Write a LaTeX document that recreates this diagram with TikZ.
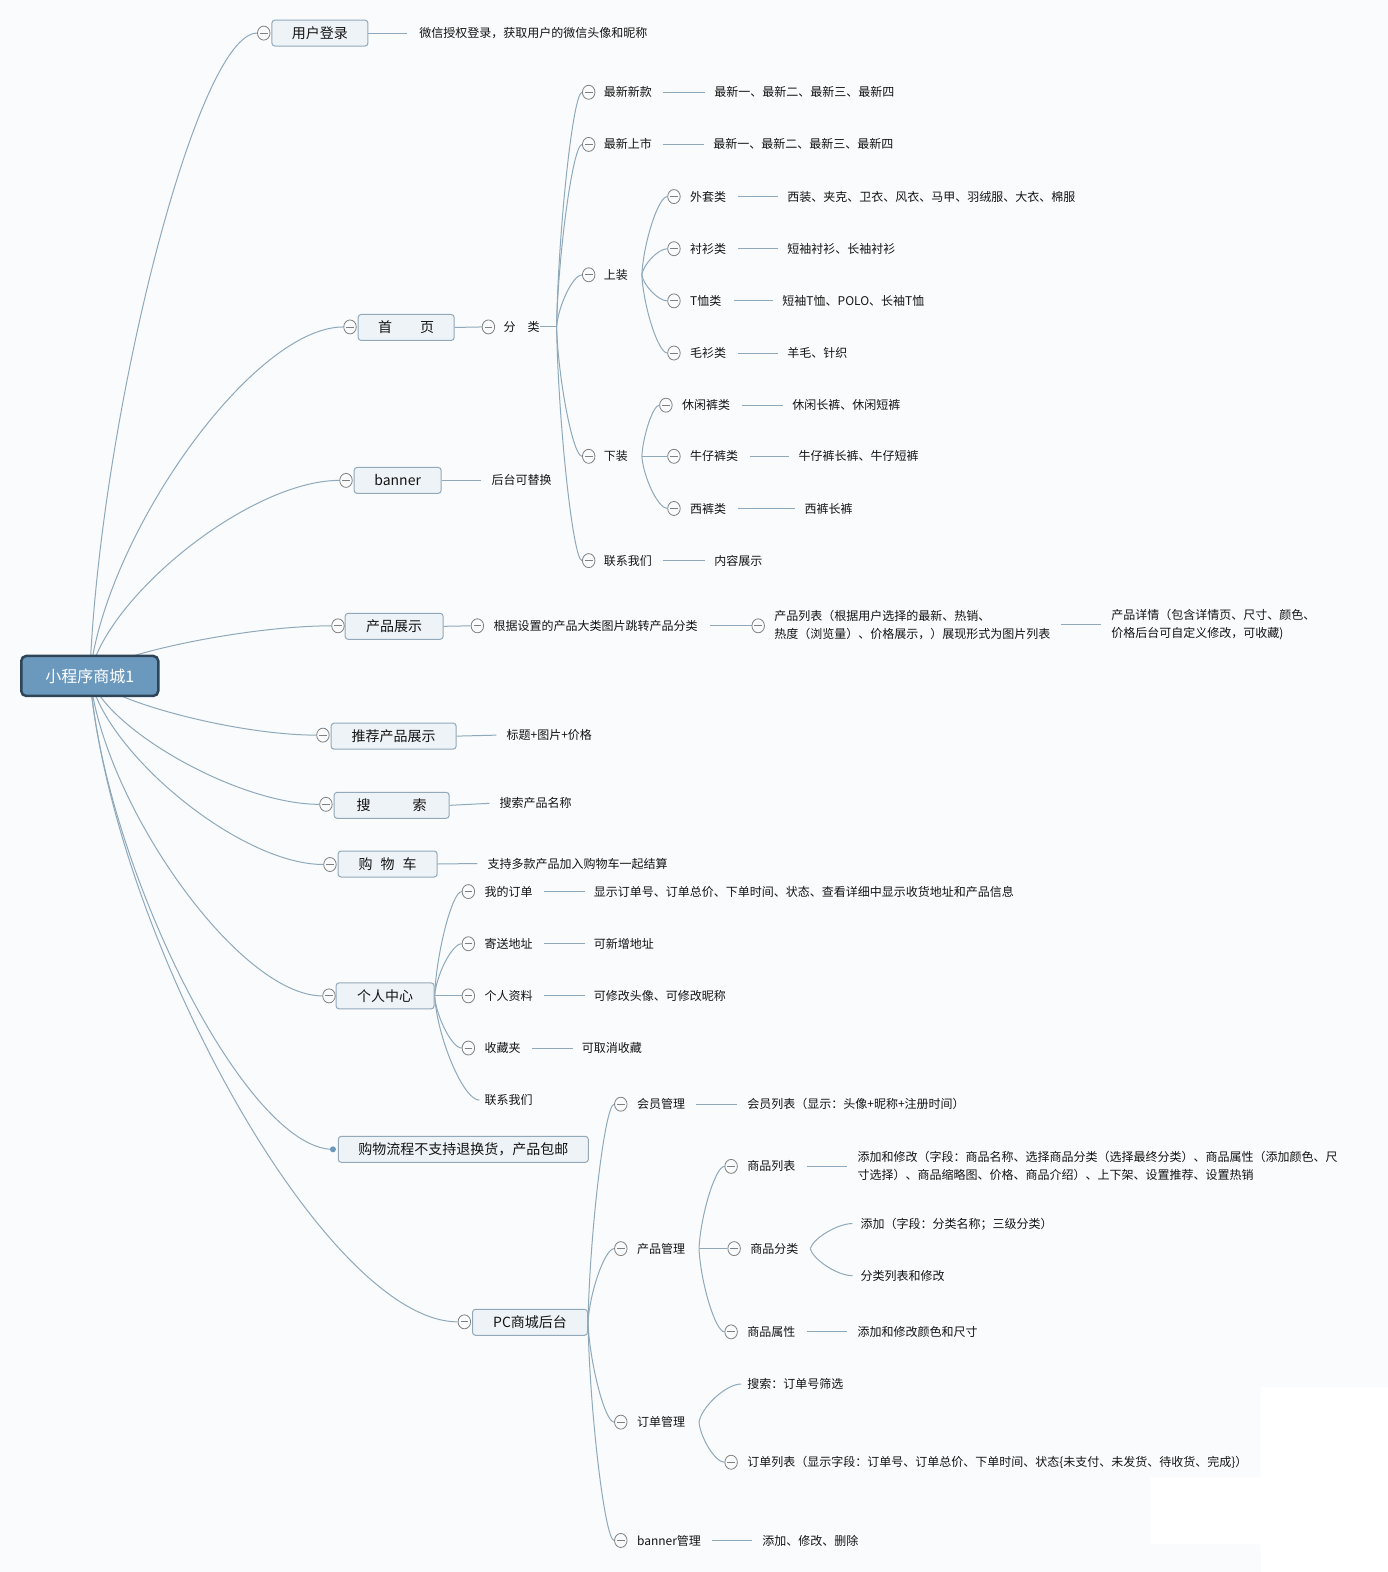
\documentclass[tikz,border=0pt]{standalone}
\usepackage{fontspec}
\setmainfont{Noto Sans CJK SC}
\usetikzlibrary{calc,shapes.geometric}
\definecolor{bgc}{HTML}{FAFBFC}
\definecolor{lc}{HTML}{8FA9BC}
\definecolor{tc}{HTML}{141414}
\definecolor{tg}{HTML}{808080}
\definecolor{bf}{HTML}{EEF3F7}
\definecolor{bb}{HTML}{93A9BA}
\definecolor{rf}{HTML}{6B99BE}
\definecolor{rb}{HTML}{2E4457}
\pgfdeclarelayer{bgl}
\pgfdeclarelayer{edges}
\pgfsetlayers{bgl,edges,main}
\tikzset{
  conn/.style={draw=lc,line width=1pt},
  txt/.style={anchor=west,inner sep=0pt,text=tc,font=\fontsize{12}{18}\selectfont,text height=10.3pt,text depth=1.2pt},
  txtm/.style={anchor=west,inner sep=0pt,text=tc,font=\fontsize{12}{18}\selectfont,align=left},
  tog/.style={ellipse,draw=tg,fill=bgc,line width=0.8pt,minimum width=12.5pt,minimum height=14pt,inner sep=0pt,
    path picture={\draw[tg,line width=0.8pt] ([xshift=-3.8pt]path picture bounding box.center)--([xshift=3.8pt]path picture bounding box.center);}},
  box/.style={draw=bb,fill=bf,rounded corners=3pt,line width=1pt,minimum height=26pt,inner sep=0pt,text=tc,font=\fontsize{14}{16}\selectfont},
  rootbox/.style={draw=rb,fill=rf,line width=2.5pt,rounded corners=5pt,minimum width=137pt,minimum height=40pt,inner sep=0pt,text=white,font=\fontsize{16}{18}\selectfont},
  dotnode/.style={circle,fill=rf,minimum size=6pt,inner sep=0pt}
}
\newcommand\bz[2]{\begin{pgfonlayer}{edges}\draw[conn] let \p1=(#1), \p2=(#2) in (\p1) .. controls ({\x1+0.06*(\x2-\x1)},{\y1+0.4*(\y2-\y1)}) and ({\x1+0.64*(\x2-\x1)},{\y2}) .. (\p2);\end{pgfonlayer}}
\newcommand\sline[2]{\begin{pgfonlayer}{edges}\draw[conn] (#1) -- (#2);\end{pgfonlayer}}
\begin{document}
\begin{tikzpicture}[x=1.0029pt,y=-1.0029pt]
\begin{pgfonlayer}{bgl}
\fill[bgc] (0pt,0pt) rectangle (1388pt,-1572pt);
\fill[white] (1257,1383) -- (1388pt,-1387pt) -- (1388pt,-1572pt) -- (1261pt,-1572pt) -- (1257,1540) -- (1147,1540) -- (1147,1473) -- (1257,1473) -- cycle;
\end{pgfonlayer}
\useasboundingbox (0pt,0pt) rectangle (1388pt,-1572pt);

% root
\node[rootbox] (root) at (89.5,674) {小程序商城1};

% 用户登录
\node[box,minimum width=96pt] (b1) at (319,33) {用户登录};
\node[tog] (c1) at (263,33) {};
\node[txt] (t1) at (418,33) {微信授权登录，获取用户的微信头像和昵称};
\sline{b1.east}{[xshift=-12pt]t1.west}
\bz{root.center}{c1.west}

% 首页
\node[box,minimum width=96pt] (b2) at (405,326.5) {首　　页};
\node[tog] (c2) at (349,326) {};
\node[tog] (c2a) at (487,326) {};
\node[txt] (t2) at (502,326) {分　类};
\sline{b2.east}{c2a.west}
\bz{root.center}{c2.west}
\coordinate (f2) at (555,326);
\sline{t2.east}{f2}

\node[tog] (c21) at (587,92) {};
\node[txt] (t21) at (602,92) {最新新款};
\node[txt] (t21a) at (712,92) {最新一、最新二、最新三、最新四};
\sline{[xshift=11pt]t21.east}{[xshift=-9pt]t21a.west}
\node[tog] (c22) at (587,144) {};
\node[txt] (t22) at (602,144) {最新上市};
\node[txt] (t22a) at (711,144) {最新一、最新二、最新三、最新四};
\sline{[xshift=11pt]t22.east}{[xshift=-9pt]t22a.west}
\node[tog] (c23) at (587,274) {};
\node[txt] (t23) at (602,274) {上装};
\node[tog] (c24) at (587,455) {};
\node[txt] (t24) at (602,455) {下装};
\node[tog] (c25) at (587,559) {};
\node[txt] (t25) at (602,559) {联系我们};
\node[txt] (t25a) at (712,559) {内容展示};
\sline{[xshift=11pt]t25.east}{[xshift=-9pt]t25a.west}
\bz{f2}{c21.west}
\bz{f2}{c22.west}
\bz{f2}{c23.west}
\bz{f2}{c24.west}
\bz{f2}{c25.west}

% 上装
\coordinate (f23) at (640,274);
\node[tog] (c231) at (672,196) {};
\node[txt] (t231) at (688,196) {外套类};
\node[txt] (t231a) at (785,196) {西装、夹克、卫衣、风衣、马甲、羽绒服、大衣、棉服};
\sline{[xshift=12pt]t231.east}{[xshift=-9pt]t231a.west}
\node[tog] (c232) at (672,248) {};
\node[txt] (t232) at (688,248) {衬衫类};
\node[txt] (t232a) at (785,248) {短袖衬衫、长袖衬衫};
\sline{[xshift=12pt]t232.east}{[xshift=-9pt]t232a.west}
\node[tog] (c233) at (672,300) {};
\node[txt] (t233) at (688,300) {T恤类};
\node[txt] (t233a) at (780,300) {短袖T恤、POLO、长袖T恤};
\sline{[xshift=12pt]t233.east}{[xshift=-9pt]t233a.west}
\node[tog] (c234) at (672,352) {};
\node[txt] (t234) at (688,352) {毛衫类};
\node[txt] (t234a) at (785,352) {羊毛、针织};
\sline{[xshift=12pt]t234.east}{[xshift=-9pt]t234a.west}
\bz{f23}{c231.west}
\bz{f23}{c232.west}
\bz{f23}{c233.west}
\bz{f23}{c234.west}

% 下装
\coordinate (f24) at (640,455);
\node[tog] (c241) at (664,404) {};
\node[txt] (t241) at (680,404) {休闲裤类};
\node[txt] (t241a) at (790,404) {休闲长裤、休闲短裤};
\sline{[xshift=12pt]t241.east}{[xshift=-9pt]t241a.west}
\node[tog] (c242) at (672,455) {};
\node[txt] (t242) at (688,455) {牛仔裤类};
\node[txt] (t242a) at (796,455) {牛仔裤长裤、牛仔短裤};
\sline{[xshift=12pt]t242.east}{[xshift=-9pt]t242a.west}
\node[tog] (c243) at (672,507) {};
\node[txt] (t243) at (688,507) {西裤类};
\node[txt] (t243a) at (802,507) {西裤长裤};
\sline{[xshift=12pt]t243.east}{[xshift=-9pt]t243a.west}
\bz{f24}{c241.west}
\bz{f24}{c242.west}
\bz{f24}{c243.west}

% banner
\node[box,minimum width=87pt] (b3) at (396.5,479) {banner};
\node[tog] (c3) at (345,479) {};
\node[txt] (t3) at (490,479) {后台可替换};
\sline{b3.east}{[xshift=-10pt]t3.west}
\bz{root.center}{c3.west}

% 产品展示
\node[box,minimum width=98pt] (b4) at (393,624.5) {产品展示};
\node[tog] (c4) at (337,624) {};
\node[tog] (c4a) at (476,624) {};
\node[txt] (t4) at (492,624) {根据设置的产品大类图片跳转产品分类};
\node[tog] (c4b) at (756,624) {};
\node[txtm] (t4b) at (772,623) {产品列表（根据用户选择的最新、热销、\\热度（浏览量）、价格展示，）展现形式为图片列表};
\node[txtm] (t4c) at (1108,623) {产品详情（包含详情页、尺寸、颜色、\\价格后台可自定义修改，可收藏)};
\sline{b4.east}{c4a.west}
\sline{[xshift=12pt]t4.east}{c4b.west}
\sline{[xshift=10pt]t4b.east}{[xshift=-10pt]t4c.west}
\bz{root.center}{c4.west}

% 推荐产品展示
\node[box,minimum width=125pt] (b5) at (392.5,734) {推荐产品展示};
\node[tog] (c5) at (322,733) {};
\node[txt] (t5) at (505,733) {标题+图片+价格};
\sline{b5.east}{[xshift=-10pt]t5.west}
\bz{root.center}{c5.west}

% 搜索
\node[box,minimum width=115pt] (b6) at (390.5,803) {搜　　　索};
\node[tog] (c6) at (325,802) {};
\node[txt] (t6) at (498,801) {搜索产品名称};
\sline{b6.east}{[xshift=-10pt]t6.west}
\bz{root.center}{c6.west}

% 购物车
\node[box,minimum width=99pt] (b7) at (386.5,861.5) {购\hspace{8pt}物\hspace{8pt}车};
\node[tog] (c7) at (329,862) {};
\node[txt] (t7) at (486,861) {支持多款产品加入购物车一起结算};
\sline{b7.east}{[xshift=-10pt]t7.west}
\bz{root.center}{c7.west}

% 个人中心
\node[box,minimum width=98pt] (b8) at (384,993) {个人中心};
\node[tog] (c8) at (328,993) {};
\bz{root.center}{c8.west}
\node[tog] (c81) at (467,889) {};
\node[txt] (t81) at (483,889) {我的订单};
\node[txt] (t81a) at (592,889) {显示订单号、订单总价、下单时间、状态、查看详细中显示收货地址和产品信息};
\sline{[xshift=11pt]t81.east}{[xshift=-9pt]t81a.west}
\node[tog] (c82) at (467,941) {};
\node[txt] (t82) at (483,941) {寄送地址};
\node[txt] (t82a) at (592,941) {可新增地址};
\sline{[xshift=11pt]t82.east}{[xshift=-9pt]t82a.west}
\node[tog] (c83) at (467,993) {};
\node[txt] (t83) at (483,993) {个人资料};
\node[txt] (t83a) at (592,993) {可修改头像、可修改昵称};
\sline{[xshift=11pt]t83.east}{[xshift=-9pt]t83a.west}
\node[tog] (c84) at (467,1045) {};
\node[txt] (t84) at (483,1045) {收藏夹};
\node[txt] (t84a) at (580,1045) {可取消收藏};
\sline{[xshift=11pt]t84.east}{[xshift=-9pt]t84a.west}
\node[txt] (t85) at (483,1097) {联系我们};
\bz{b8.east}{c81.west}
\bz{b8.east}{c82.west}
\bz{b8.east}{c83.west}
\bz{b8.east}{c84.west}
\bz{b8.east}{[xshift=-5pt]t85.west}

% 购物流程
\node[box,minimum width=250pt] (b9) at (462,1146) {购物流程不支持退换货，产品包邮};
\node[dotnode] (c9) at (332,1146) {};
\bz{root.center}{c9.center}

% PC商城后台
\node[box,minimum width=115pt] (b10) at (528.5,1318.5) {PC商城后台};
\node[tog] (c10) at (463,1318) {};
\bz{root.center}{c10.west}

\node[tog] (c101) at (619,1101) {};
\node[txt] (t101) at (635,1101) {会员管理};
\node[txt] (t101a) at (745,1101) {会员列表（显示：头像+昵称+注册时间）};
\sline{[xshift=11pt]t101.east}{[xshift=-10pt]t101a.west}
\node[tog] (c102) at (619,1245) {};
\node[txt] (t102) at (635,1245) {产品管理};
\node[tog] (c103) at (619,1418) {};
\node[txt] (t103) at (635,1418) {订单管理};
\node[tog] (c104) at (619,1536) {};
\node[txt] (t104) at (635,1536) {banner管理};
\node[txt] (t104a) at (760,1536) {添加、修改、删除};
\sline{[xshift=11pt]t104.east}{[xshift=-10pt]t104a.west}
\bz{b10.east}{c101.west}
\bz{b10.east}{c102.west}
\bz{b10.east}{c103.west}
\bz{b10.east}{c104.west}

% 产品管理
\coordinate (f102) at (697,1245);
\node[tog] (c1021) at (729,1163) {};
\node[txt] (t1021) at (745,1163) {商品列表};
\node[txtm] (t1021a) at (855,1163) {添加和修改（字段：商品名称、选择商品分类（选择最终分类）、商品属性（添加颜色、尺\\寸选择）、商品缩略图、价格、商品介绍）、上下架、设置推荐、设置热销};
\sline{[xshift=11pt]t1021.east}{[xshift=-10pt]t1021a.west}
\node[tog] (c1022) at (732,1245) {};
\node[txt] (t1022) at (748,1245) {商品分类};
\node[tog] (c1023) at (729,1328) {};
\node[txt] (t1023) at (745,1328) {商品属性};
\node[txt] (t1023a) at (855,1328) {添加和修改颜色和尺寸};
\sline{[xshift=11pt]t1023.east}{[xshift=-10pt]t1023a.west}
\bz{f102}{c1021.west}
\bz{f102}{c1022.west}
\bz{f102}{c1023.west}

% 商品分类
\coordinate (f1022) at (808,1245);
\node[txt] (t10221) at (858,1220) {添加（字段：分类名称；三级分类）};
\node[txt] (t10222) at (858,1272) {分类列表和修改};
\bz{f1022}{[xshift=-8pt]t10221.west}
\bz{f1022}{[xshift=-8pt]t10222.west}

% 订单管理
\coordinate (f103) at (697,1418);
\node[txt] (t1031) at (745,1380) {搜索：订单号筛选};
\node[tog] (c1032) at (729,1458) {};
\node[txt] (t1032) at (745,1458) {订单列表（显示字段：订单号、订单总价、下单时间、状态\{未支付、未发货、待收货、完成\}）};
\bz{f103}{[xshift=-6pt]t1031.west}
\bz{f103}{c1032.west}
\end{tikzpicture}
\end{document}
